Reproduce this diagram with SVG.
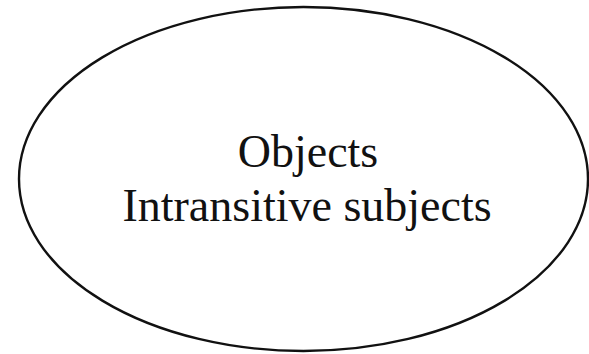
<svg xmlns="http://www.w3.org/2000/svg" width="589" height="354" viewBox="0 0 589 354">
  <style>
    .outline { fill: #ffffff; stroke: #111111; stroke-width: 2.4; }
    .label { font-family: "Liberation Serif", "Times New Roman", serif; font-size: 46px; fill: #111111; text-anchor: middle; }
  </style>
  <rect width="589" height="354" fill="#ffffff"/>
  <g id="node-objects">
    <ellipse class="outline" cx="303.5" cy="179" rx="284.5" ry="172"/>
    <text class="label" x="308" y="167">Objects</text>
    <text class="label" x="307" y="221">Intransitive subjects</text>
  </g>
  <g id="connectors"></g>
</svg>
